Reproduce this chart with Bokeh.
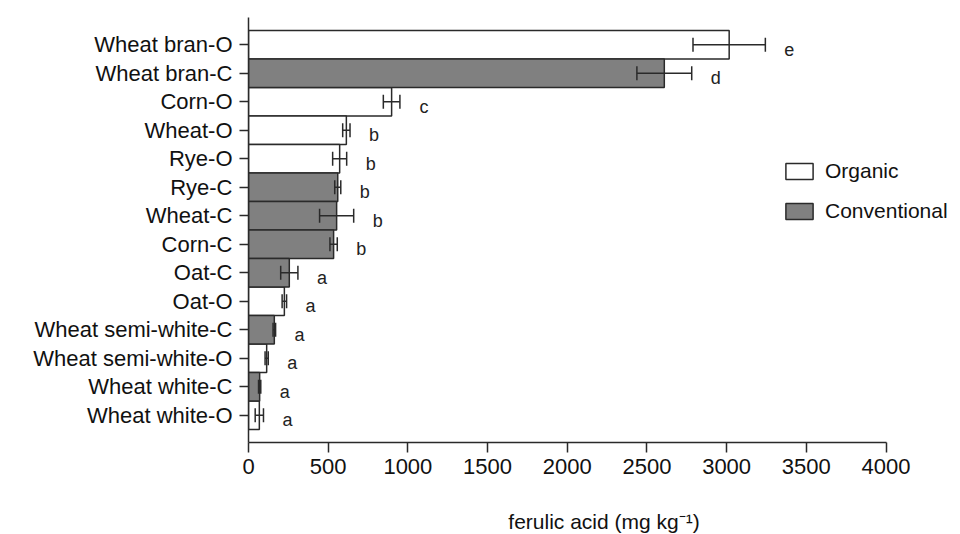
from bokeh.plotting import figure
from bokeh.models import (ColumnDataSource, FactorRange, Range1d, Whisker, TeeHead,
                          FixedTicker, Legend, LegendItem)
from bokeh.core.properties import value
from bokeh.embed import file_html
from bokeh.resources import INLINE

# ---- data (top to bottom as in the chart) ----
categories = ["Wheat bran-O", "Wheat bran-C", "Corn-O", "Wheat-O", "Rye-O", "Rye-C",
              "Wheat-C", "Corn-C", "Oat-C", "Oat-O", "Wheat semi-white-C",
              "Wheat semi-white-O", "Wheat white-C", "Wheat white-O"]
ferulic = [3016, 2609, 898, 614, 572, 560, 553, 534, 256, 225, 162, 114, 70, 68]
errors = [227, 172, 52, 23, 44, 19, 107, 23, 54, 14, 8, 10, 7, 26]
letters = ["e", "d", "c", "b", "b", "b", "b", "b", "a", "a", "a", "a", "a", "a"]
system = ["Organic", "Conventional", "Organic", "Organic", "Organic", "Conventional",
          "Conventional", "Conventional", "Conventional", "Organic", "Conventional",
          "Organic", "Conventional", "Organic"]
x_ticks = [0, 500, 1000, 1500, 2000, 2500, 3000, 3500, 4000]

FONT = "Liberation Sans"
DARK = "#2a2a2a"
GRAY = "#808080"

def subset(kind):
    idx = [i for i, s in enumerate(system) if s == kind]
    return ColumnDataSource(dict(cat=[categories[i] for i in idx],
                                 val=[ferulic[i] for i in idx]))

src_all = ColumnDataSource(dict(
    cat=categories,
    val=ferulic,
    lo=[v - e for v, e in zip(ferulic, errors)],
    hi=[v + e for v, e in zip(ferulic, errors)],
    letter=letters,
))

scale_px = 637.5 / 4000.0
frame_w = 711
p = figure(
    y_range=FactorRange(factors=list(reversed(categories)), range_padding=0.455,
                        range_padding_units="absolute"),
    x_range=Range1d(0, frame_w / scale_px),
    frame_width=frame_w, frame_height=425,
    min_border_left=248, min_border_top=17, min_border_right=0, min_border_bottom=0,
    output_backend="svg", toolbar_location=None,
)
p.outline_line_color = None
p.xgrid.visible = False
p.ygrid.visible = False

r_org = p.hbar(y="cat", left=0, right="val", height=1.0, source=subset("Organic"),
               fill_color="white", line_color=DARK, line_width=1.5)
r_con = p.hbar(y="cat", left=0, right="val", height=1.0, source=subset("Conventional"),
               fill_color=GRAY, line_color=DARK, line_width=1.5)

w = Whisker(base="cat", lower="lo", upper="hi", source=src_all, dimension="width",
            line_color=DARK, line_width=1.5, level="overlay",
            lower_head=TeeHead(size=14, line_color=DARK, line_width=1.5),
            upper_head=TeeHead(size=14, line_color=DARK, line_width=1.5))
p.add_layout(w)

p.text(x="hi", y="cat", text="letter", source=src_all, x_offset=24, y_offset=5,
       text_align="center", text_baseline="middle", text_font=value(FONT),
       text_font_size="18px", text_color="#222222")

# axes
xa = p.xaxis[0]
xa.ticker = FixedTicker(ticks=x_ticks)
xa.bounds = (0, 4000)
xa.minor_tick_line_color = None
xa.major_tick_in = 0
xa.major_tick_out = 10
xa.major_label_standoff = 6
xa.axis_line_color = DARK
xa.axis_line_width = 1.5
xa.major_tick_line_color = DARK
xa.major_tick_line_width = 1.5
xa.major_label_text_font = FONT
xa.major_label_text_font_size = "22px"
xa.major_label_text_color = "#111111"
xa.axis_label = "ferulic acid (mg kg\u207b\u00b9)"
xa.axis_label_text_font = FONT
xa.axis_label_text_font_size = "21px"
xa.axis_label_text_font_style = "normal"
xa.axis_label_text_color = "#111111"
xa.axis_label_standoff = 33

ya = p.yaxis[0]
ya.major_tick_in = 0
ya.major_tick_out = 9
ya.major_label_standoff = 7
ya.axis_line_color = DARK
ya.axis_line_width = 1.5
ya.major_tick_line_color = DARK
ya.major_tick_line_width = 1.5
ya.major_label_text_font = FONT
ya.major_label_text_font_size = "22px"
ya.major_label_text_color = "#111111"

legend = Legend(items=[LegendItem(label="Organic", renderers=[r_org]),
                       LegendItem(label="Conventional", renderers=[r_con])],
                location=(534, 219), orientation="vertical",
                glyph_width=34, glyph_height=20, label_height=20,
                label_standoff=9, spacing=16, padding=0, margin=0,
                border_line_color=None, background_fill_alpha=0,
                label_text_font=FONT, label_text_font_size="21px",
                label_text_color="#111111")
p.add_layout(legend, "center")

open("out.html", "w").write(file_html(p, INLINE))
